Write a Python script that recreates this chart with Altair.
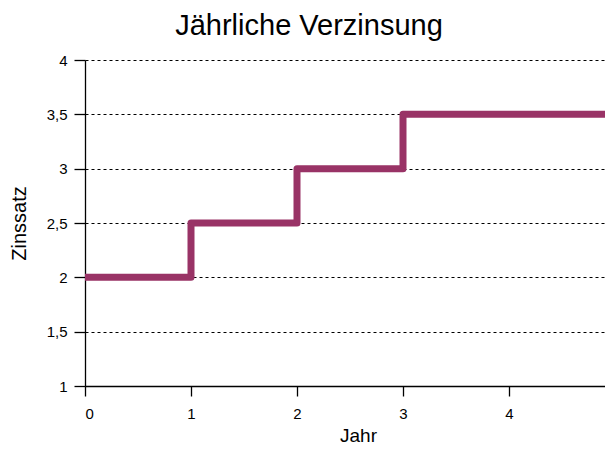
import altair as alt
import pandas as pd

jahr = [0, 1, 2, 3, 4, 5]
zinssatz = [2.0, 2.5, 3.0, 3.5, 3.5, 3.5]
y_ticks = [1, 1.5, 2, 2.5, 3, 3.5, 4]
x_ticks = [0, 1, 2, 3, 4, 5]

df = pd.DataFrame({"Jahr": jahr, "Zinssatz": zinssatz})

FONT = "Liberation Sans"
PLOT_W = 520
X_MAX = 520 / 106.0

chart = alt.Chart(df).mark_line(
    interpolate="step-after", color="#993366", strokeWidth=7, strokeJoin="round", strokeCap="butt", clip=True
).encode(
    x=alt.X("Jahr:Q", scale=alt.Scale(domain=[0, X_MAX], nice=False, zero=False),
            axis=alt.Axis(values=x_ticks, grid=False, title="Jahr", tickSize=10, labelPadding=10,
                          labelFontSize=15, titleFontSize=19, titleX=273, titleY=55,
                          titleAlign="center", titleBaseline="alphabetic")),
    y=alt.Y("Zinssatz:Q", scale=alt.Scale(domain=[1, 4], nice=False, zero=False),
            axis=alt.Axis(values=y_ticks, grid=True, gridDash=[3, 3], gridColor="#000000", gridOpacity=1,
                          gridWidth=1, title="Zinssatz", tickSize=11, labelPadding=7,
                          labelFontSize=15, titleFontSize=20, titleX=-66, titleY=163,
                          titleAlign="center", titleBaseline="middle", titleAngle=270,
                          labelExpr="replace(format(datum.value, '.1~f'), '.', ',')")),
).properties(
    width=PLOT_W, height=326,
    title=alt.TitleParams("Jährliche Verzinsung", fontSize=29, font=FONT, fontWeight="normal",
                          color="#000000", anchor="middle", dx=-36, offset=12),
    autosize=alt.AutoSizeParams(type="none"),
    padding={"left": 77, "top": 52, "right": 0, "bottom": 60},
).configure_axis(
    domainColor="#000000", tickColor="#000000", labelColor="#000000", titleColor="#000000",
    labelFont=FONT, titleFont=FONT, titleFontWeight="normal", domainWidth=1.3, tickWidth=1.3,
).configure_view(stroke=None)

chart.save("out.html", embed_options={"renderer": "svg", "actions": False})
